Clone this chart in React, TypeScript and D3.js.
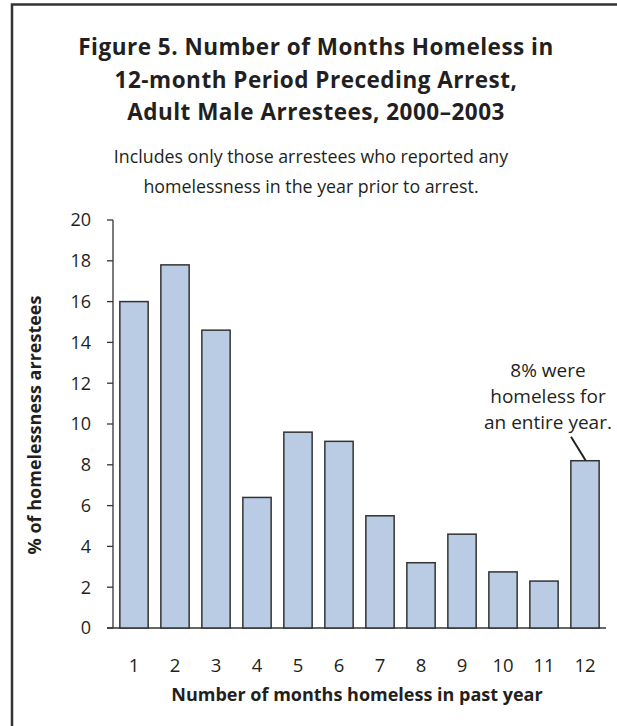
import React from "react";
import * as d3 from "d3";

const months = ["1", "2", "3", "4", "5", "6", "7", "8", "9", "10", "11", "12"];
const percents = [16.0, 17.8, 14.6, 6.4, 9.6, 9.15, 5.5, 3.2, 4.6, 2.75, 2.3, 8.2];
const yTicks = [0, 2, 4, 6, 8, 10, 12, 14, 16, 18, 20];
const titleLines = [
  "Figure 5. Number of Months Homeless in",
  "12-month Period Preceding Arrest,",
  "Adult Male Arrestees, 2000\u20132003",
];
const subtitleLines = [
  "Includes only those arrestees who reported any",
  "homelessness in the year prior to arrest.",
];
const noteLines = ["8% were", "homeless for", "an entire year."];
const xTitle = "Number of months homeless in past year";
const yTitle = "% of homelessness arrestees";

const W = 617;
const H = 726;
const FONT = "'Open Sans', Lato, sans-serif";
const TXT = "#231f20";

export default function App() {
  const x = d3.scaleBand<string>().domain(months).range([113.5, 605.5]).paddingInner(0.31).paddingOuter(0.155);
  const y = d3.scaleLinear().domain([0, 20]).range([628, 220]);
  const lastX = (x("12") as number) + x.bandwidth() / 2;

  return (
    <svg width={W} height={H} style={{ position: "absolute", left: 0, top: 0, background: "#fff" }}>
      <rect x={12} y={4.5} width={640} height={760} fill="#fff" stroke="#333" strokeWidth={2.5} />
      <g fontFamily={FONT} fill={TXT} textAnchor="middle">
        {titleLines.map((t, i) => (
          <text key={i} x={316} y={55 + i * 32.5} fontSize={22.5} fontWeight={700} letterSpacing={0.5}>{t}</text>
        ))}
        {subtitleLines.map((t, i) => (
          <text key={i} x={311} y={163 + i * 30} fontSize={17.8}>{t}</text>
        ))}
      </g>
      {/* y axis */}
      <line x1={113} x2={113} y1={y(20)} y2={y(0)} stroke="#333" strokeWidth={1.3} />
      <line x1={107} x2={606} y1={y(0)} y2={y(0)} stroke="#333" strokeWidth={1.3} />
      {yTicks.map((t) => (
        <g key={t}>
          <line x1={107} x2={113} y1={y(t)} y2={y(t)} stroke="#333" strokeWidth={1.3} />
          <text x={91} y={y(t)} dy="0.35em" textAnchor="end" fontFamily={FONT} fontSize={18} fill={TXT}>{t}</text>
        </g>
      ))}
      {/* bars */}
      {percents.map((v, i) => (
        <rect
          key={i}
          x={x(months[i])}
          y={y(v)}
          width={x.bandwidth()}
          height={y(0) - y(v)}
          fill="#b9cce4"
          stroke="#333"
          strokeWidth={1.5}
        />
      ))}
      {months.map((m) => (
        <text key={m} x={(x(m) as number) + x.bandwidth() / 2} y={672} textAnchor="middle" fontFamily={FONT} fontSize={18.5} fill={TXT}>{m}</text>
      ))}
      <text x={357} y={701} textAnchor="middle" fontFamily={FONT} fontSize={18} fontWeight={700} fill={TXT}>{xTitle}</text>
      <text transform={`translate(35,${425}) rotate(-90)`} dy="0.35em" textAnchor="middle" fontFamily={FONT} fontSize={18} fontWeight={700} fill={TXT}>{yTitle}</text>
      {/* annotation */}
      {noteLines.map((t, i) => (
        <text key={i} x={548} y={370 + i * 26} dy="0.35em" textAnchor="middle" fontFamily={FONT} fontSize={19} fill={TXT}>{t}</text>
      ))}
      <line x1={lastX - 14} y1={y(8.2) - 24} x2={lastX + 0.5} y2={y(8.2) - 0.5} stroke="#222" strokeWidth={2} />
    </svg>
  );
}
